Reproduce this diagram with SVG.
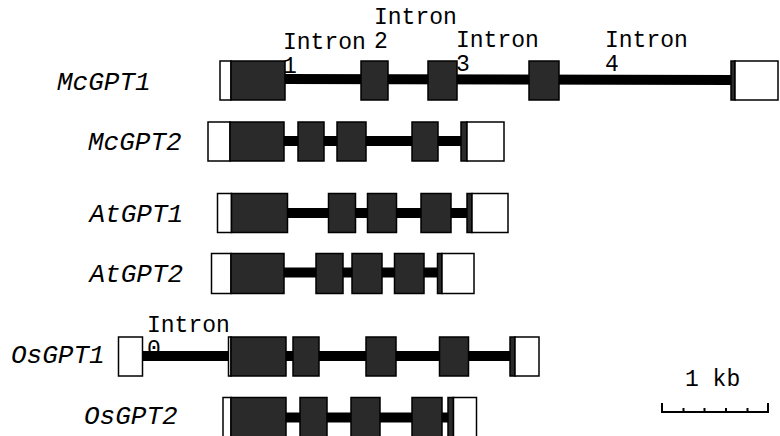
<svg xmlns="http://www.w3.org/2000/svg" width="780" height="436" viewBox="0 0 780 436">
<style>
.u{fill:#fff;stroke:#000;stroke-width:1.5}
.e{fill:#2a2a2a;stroke:#000;stroke-width:1.5}
.i{stroke:#000;stroke-width:10;fill:none}
.g{font-family:"Liberation Mono","Courier New",monospace;font-style:italic;font-size:26px;fill:#000}
.t{font-family:"Liberation Mono","Courier New",monospace;font-size:23px;fill:#000}
</style>
<rect width="780" height="436" fill="#fff"/>
<g id="McGPT1">
<line class="i" x1="285" y1="79" x2="733" y2="80"/>
<rect class="u" x="220" y="61" width="11" height="39"/>
<rect class="e" x="231" y="61" width="54" height="39"/>
<rect class="e" x="361" y="61" width="27" height="39"/>
<rect class="e" x="428" y="61" width="29" height="39"/>
<rect class="e" x="529" y="61" width="30" height="39"/>
<rect class="e" x="731" y="61" width="4" height="39"/>
<rect class="u" x="735" y="61" width="43" height="39"/>
<text class="g" x="57" y="90">McGPT1</text>
</g>
<g id="McGPT2">
<line class="i" x1="230" y1="141" x2="463" y2="141"/>
<rect class="u" x="208" y="122" width="22" height="39"/>
<rect class="e" x="230" y="122" width="54" height="39"/>
<rect class="e" x="298" y="122" width="26" height="39"/>
<rect class="e" x="337" y="122" width="29" height="39"/>
<rect class="e" x="412" y="122" width="26" height="39"/>
<rect class="e" x="461" y="122" width="6" height="39"/>
<rect class="u" x="467" y="122" width="37" height="39"/>
<text class="g" x="88" y="150">McGPT2</text>
</g>
<g id="AtGPT1">
<line class="i" x1="287" y1="213" x2="469" y2="213"/>
<rect class="u" x="217.5" y="193.5" width="14" height="39"/>
<rect class="e" x="231.5" y="193.5" width="56" height="39"/>
<rect class="e" x="328.5" y="193.5" width="27" height="39"/>
<rect class="e" x="367.5" y="193.5" width="29" height="39"/>
<rect class="e" x="421" y="193.5" width="30" height="39"/>
<rect class="e" x="467" y="193.5" width="5" height="39"/>
<rect class="u" x="472" y="193.5" width="36" height="39"/>
<text class="g" x="89.5" y="221.5">AtGPT1</text>
</g>
<g id="AtGPT2">
<line class="i" x1="284" y1="272.5" x2="440" y2="272.5"/>
<rect class="u" x="211.5" y="253.5" width="19.5" height="40"/>
<rect class="e" x="231" y="253.5" width="53" height="40"/>
<rect class="e" x="316" y="253.5" width="27" height="40"/>
<rect class="e" x="352" y="253.5" width="30" height="40"/>
<rect class="e" x="394.5" y="253.5" width="29.5" height="40"/>
<rect class="e" x="437.5" y="253.5" width="4.5" height="40"/>
<rect class="u" x="442" y="253.5" width="32" height="40"/>
<text class="g" x="89.5" y="281.5">AtGPT2</text>
</g>
<g id="OsGPT1">
<line class="i" x1="142.5" y1="356" x2="513" y2="356"/>
<rect class="u" x="118.5" y="337" width="24" height="39"/>
<rect class="u" x="228.5" y="337" width="2.5" height="39"/>
<rect class="e" x="231" y="337" width="55" height="39"/>
<rect class="e" x="293" y="337" width="26" height="39"/>
<rect class="e" x="366" y="337" width="30" height="39"/>
<rect class="e" x="439.5" y="337" width="29" height="39"/>
<rect class="e" x="510" y="337" width="5" height="39"/>
<rect class="u" x="515" y="337" width="24" height="39"/>
<text class="g" x="11" y="363">OsGPT1</text>
</g>
<g id="OsGPT2">
<line class="i" x1="286" y1="417.5" x2="450" y2="417.5"/>
<rect class="u" x="223" y="397.5" width="8" height="40"/>
<rect class="e" x="231" y="397.5" width="55" height="40"/>
<rect class="e" x="300" y="397.5" width="27" height="40"/>
<rect class="e" x="351" y="397.5" width="29" height="40"/>
<rect class="e" x="412" y="397.5" width="30" height="40"/>
<rect class="e" x="448" y="397.5" width="5.5" height="40"/>
<rect class="u" x="453.5" y="397.5" width="23" height="40"/>
<text class="g" x="84" y="424">OsGPT2</text>
</g>
<g id="intron-labels">
<text class="t" x="283" y="49">Intron</text>
<text class="t" x="283" y="73">1</text>
<text class="t" x="374" y="24">Intron</text>
<text class="t" x="374" y="48">2</text>
<text class="t" x="456" y="46.5">Intron</text>
<text class="t" x="456" y="71">3</text>
<text class="t" x="605" y="46.5">Intron</text>
<text class="t" x="605" y="71">4</text>
<text class="t" x="147" y="331.5">Intron</text>
<text class="t" x="147" y="356">0</text>
</g>
<g id="scale-bar">
<path d="M662,403V412H768V403M683.5,408V412M704.5,408V412M726,408V412M747.5,408V412" fill="none" stroke="#000" stroke-width="2"/>
<text class="t" x="685" y="386">1 kb</text>
</g>
</svg>
